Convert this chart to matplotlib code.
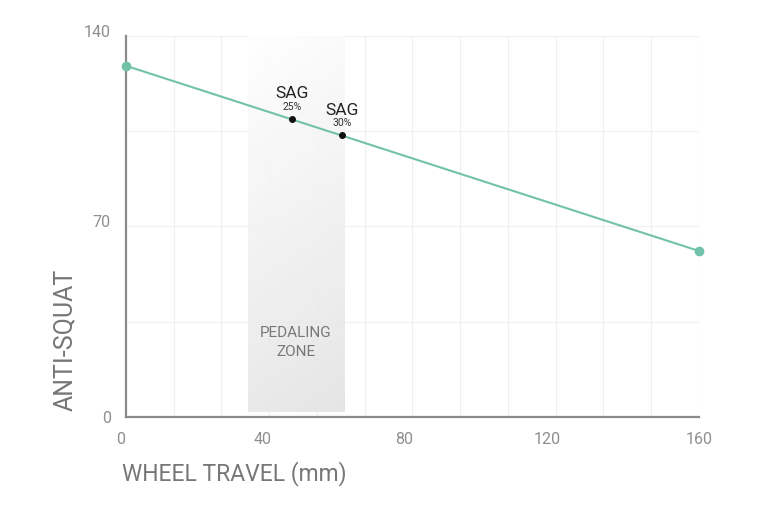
import numpy as np
import matplotlib.pyplot as plt
from matplotlib.colors import LinearSegmentedColormap
from matplotlib.transforms import ScaledTranslation

plt.rcParams['font.family'] = ['Roboto', 'DejaVu Sans']

travel = [0, 160]
anti_squat = [129, 61]
sag_labels = ['25%', '30%']
sag_travel = [46.4, 60.3]
sag_values = [109.3, 103.4]
zone = [34, 61]
x_ticks = [0, 40, 80, 120, 160]
y_ticks = [0, 70, 140]

fig = plt.figure(figsize=(7.68, 5.12), dpi=100)
ax = fig.add_axes([0.164, 0.1855, 0.746, 0.7445])

# grid
for gx in np.linspace(0, 160, 13)[1:]:
    ax.axvline(gx, color='#f0f0f0', lw=0.9, zorder=0)
for gy in [35, 70, 105, 140]:
    ax.axhline(gy, color='#f0f0f0', lw=0.9, zorder=0)

# pedaling zone gradient (dark at bottom, fading to top)
yy, xx = np.mgrid[0:1:200j, 0:1:60j]
grad = np.clip((1 - yy) * 0.85 + xx * 0.15, 0, 1)
cmap = LinearSegmentedColormap.from_list('zone', ['#ffffff', '#e3e3e3'])
ax.imshow(grad, extent=[zone[0], zone[1], 2, 140], origin='lower', cmap=cmap,
          aspect='auto', alpha=0.9, zorder=1, vmin=0, vmax=1)
ax.text((zone[0] + zone[1]) / 2, 27.5, 'PEDALING\nZONE', ha='center', va='center',
        fontsize=11, color='#777777', linespacing=1.45, zorder=3)

ax.plot(travel, anti_squat, color='#72c2aa', lw=1.5, zorder=4)
ax.plot(travel, anti_squat, 'o', color='#72c2aa', ms=6, zorder=5, clip_on=False)
ax.plot(sag_travel, sag_values, 'o', color='#111111', ms=4, zorder=6)
for sx, sy, lab in zip(sag_travel, sag_values, sag_labels):
    ax.text(sx, sy + 6.6, 'SAG', ha='center', va='bottom', fontsize=12.5, color='#222222', zorder=6)
    ax.text(sx, sy + 2.6, lab, ha='center', va='bottom', fontsize=7.5, color='#333333', zorder=6)

ax.set_xlim(0, 160)
ax.set_ylim(0, 140)
ax.set_xticks(x_ticks)
ax.set_yticks(y_ticks)
ax.tick_params(length=0, labelsize=11.5, colors='#8f8f8f')
ax.tick_params(axis='x', pad=11)
ax.tick_params(axis='y', pad=11)
for t, lab in zip(y_ticks, ax.get_yticklabels()):
    if t > 0:
        lab.set_transform(lab.get_transform() + ScaledTranslation(0, 5 / 100, fig.dpi_scale_trans))
# small horizontal nudges of the x labels, as in the original
for dx, lab in zip([-5, -7, -8, -8, 0], ax.get_xticklabels()):
    lab.set_transform(lab.get_transform() + ScaledTranslation(dx / 100, 0, fig.dpi_scale_trans))
for s in ['top', 'right']:
    ax.spines[s].set_visible(False)
for s in ['left', 'bottom']:
    ax.spines[s].set_color('#8a8a8a')
    ax.spines[s].set_linewidth(1.6)

ax.set_xlabel('WHEEL TRAVEL (mm)', loc='left', fontsize=16.5, color='#777777')
ax.xaxis.set_label_coords(-0.007, -0.115)
ax.set_ylabel('ANTI-SQUAT', loc='bottom', fontsize=18, color='#777777')
ax.yaxis.set_label_coords(-0.085, 0.015)

fig.savefig('out.png', dpi=100)
